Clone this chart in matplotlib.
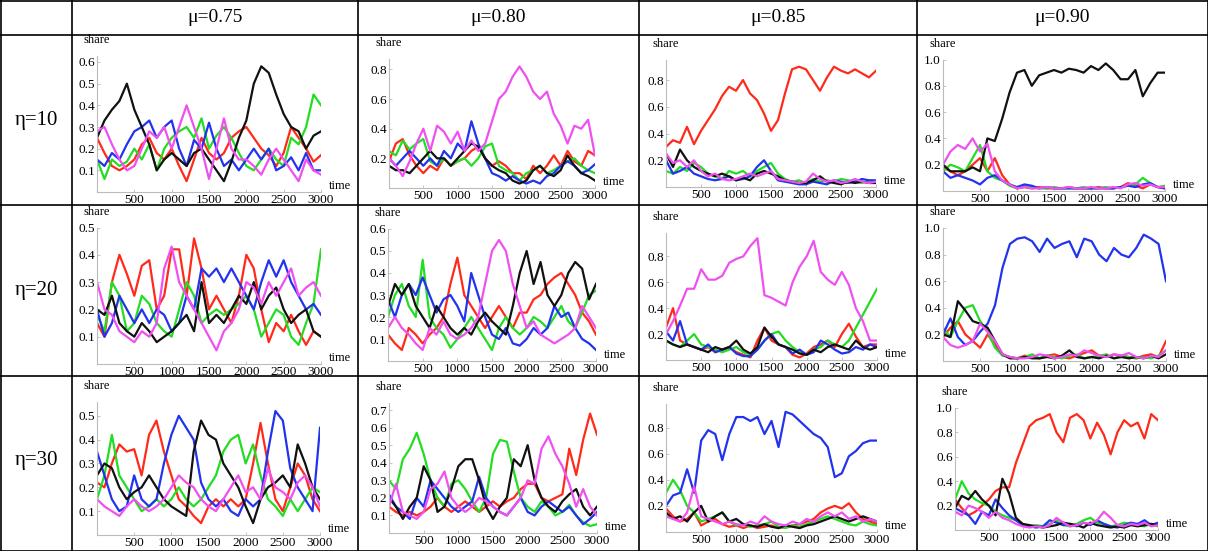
import numpy as np
import matplotlib.pyplot as plt
from matplotlib.lines import Line2D

plt.rcParams['font.family'] = ['Liberation Serif', 'DejaVu Serif']

# time grid (every 100 steps)
t = np.arange(0, 3001, 100)

mu_labels = ["\u03bc=0.75", "\u03bc=0.80", "\u03bc=0.85", "\u03bc=0.90"]
eta_labels = ["\u03b7=10", "\u03b7=20", "\u03b7=30"]
x_ticks = [500, 1000, 1500, 2000, 2500, 3000]

# ---- eta=10 ----
e10_m75_red = [0.25,0.18,0.12,0.10,0.12,0.15,0.22,0.25,0.18,0.15,0.20,0.12,0.05,0.15,0.25,0.18,0.15,0.18,0.25,0.28,0.30,0.25,0.20,0.17,0.12,0.18,0.30,0.25,0.20,0.14,0.17]
e10_m75_green = [0.15,0.06,0.15,0.12,0.14,0.20,0.15,0.22,0.10,0.20,0.25,0.28,0.30,0.25,0.34,0.20,0.26,0.30,0.25,0.18,0.12,0.10,0.15,0.20,0.15,0.12,0.25,0.22,0.30,0.45,0.40]
e10_m75_blue = [0.15,0.12,0.18,0.15,0.22,0.28,0.30,0.33,0.25,0.30,0.33,0.20,0.12,0.24,0.20,0.32,0.20,0.12,0.15,0.10,0.15,0.20,0.15,0.20,0.10,0.12,0.16,0.10,0.18,0.10,0.10]
e10_m75_black = [0.25,0.33,0.38,0.42,0.50,0.38,0.30,0.22,0.10,0.15,0.18,0.15,0.12,0.18,0.20,0.15,0.10,0.05,0.14,0.25,0.33,0.50,0.58,0.55,0.45,0.36,0.30,0.28,0.20,0.26,0.28]
e10_m75_magenta = [0.28,0.30,0.22,0.15,0.10,0.12,0.20,0.28,0.25,0.30,0.20,0.30,0.40,0.30,0.20,0.06,0.20,0.34,0.20,0.15,0.15,0.12,0.08,0.15,0.20,0.15,0.10,0.05,0.15,0.10,0.08]

e10_m80_red = [0.18,0.30,0.33,0.22,0.15,0.10,0.15,0.12,0.20,0.15,0.18,0.20,0.25,0.28,0.20,0.15,0.18,0.15,0.10,0.10,0.06,0.15,0.10,0.15,0.22,0.15,0.25,0.18,0.15,0.25,0.22]
e10_m80_green = [0.25,0.22,0.32,0.26,0.30,0.33,0.18,0.15,0.20,0.15,0.18,0.20,0.15,0.20,0.28,0.30,0.15,0.12,0.10,0.05,0.10,0.12,0.15,0.10,0.12,0.15,0.18,0.20,0.15,0.12,0.10]
e10_m80_blue = [0.20,0.15,0.20,0.25,0.20,0.15,0.20,0.15,0.25,0.20,0.30,0.25,0.45,0.30,0.20,0.10,0.08,0.05,0.08,0.05,0.03,0.05,0.03,0.08,0.10,0.15,0.18,0.15,0.10,0.12,0.16]
e10_m80_black = [0.15,0.12,0.12,0.10,0.15,0.20,0.25,0.20,0.20,0.15,0.20,0.25,0.30,0.28,0.20,0.15,0.12,0.10,0.05,0.03,0.05,0.12,0.15,0.10,0.08,0.12,0.22,0.15,0.10,0.08,0.05]
e10_m80_magenta = [0.20,0.15,0.08,0.18,0.30,0.40,0.25,0.42,0.38,0.30,0.38,0.25,0.32,0.25,0.30,0.45,0.60,0.65,0.75,0.82,0.75,0.65,0.60,0.65,0.50,0.42,0.30,0.42,0.40,0.46,0.22]

e10_m85_red = [0.30,0.35,0.33,0.45,0.32,0.42,0.50,0.58,0.68,0.75,0.72,0.80,0.70,0.65,0.55,0.42,0.50,0.70,0.88,0.90,0.88,0.80,0.72,0.82,0.90,0.87,0.85,0.88,0.85,0.82,0.87]
e10_m85_green = [0.12,0.10,0.15,0.12,0.18,0.15,0.10,0.08,0.06,0.12,0.10,0.12,0.08,0.12,0.15,0.18,0.10,0.06,0.04,0.05,0.03,0.06,0.04,0.05,0.04,0.06,0.05,0.04,0.03,0.05,0.04]
e10_m85_blue = [0.20,0.10,0.12,0.15,0.10,0.08,0.06,0.05,0.06,0.08,0.05,0.06,0.08,0.15,0.20,0.12,0.05,0.04,0.03,0.02,0.02,0.04,0.03,0.02,0.05,0.04,0.03,0.04,0.06,0.05,0.05]
e10_m85_black = [0.25,0.15,0.28,0.20,0.15,0.12,0.10,0.08,0.10,0.08,0.05,0.07,0.05,0.10,0.12,0.10,0.08,0.05,0.04,0.03,0.03,0.05,0.08,0.04,0.03,0.02,0.04,0.03,0.04,0.03,0.03]
e10_m85_magenta = [0.25,0.18,0.20,0.15,0.20,0.12,0.08,0.10,0.06,0.05,0.06,0.08,0.10,0.08,0.10,0.12,0.06,0.05,0.04,0.03,0.04,0.10,0.06,0.04,0.05,0.03,0.04,0.06,0.04,0.03,0.04]

e10_m90_red = [0.18,0.15,0.12,0.15,0.20,0.25,0.15,0.25,0.12,0.05,0.02,0.03,0.02,0.03,0.02,0.02,0.02,0.03,0.02,0.02,0.02,0.03,0.02,0.02,0.03,0.06,0.04,0.02,0.05,0.03,0.02]
e10_m90_green = [0.15,0.20,0.18,0.15,0.25,0.35,0.15,0.10,0.08,0.04,0.02,0.04,0.03,0.02,0.02,0.03,0.02,0.02,0.02,0.03,0.02,0.02,0.03,0.02,0.03,0.04,0.05,0.10,0.06,0.03,0.04]
e10_m90_blue = [0.15,0.10,0.12,0.10,0.08,0.05,0.10,0.12,0.08,0.05,0.03,0.05,0.04,0.02,0.03,0.02,0.02,0.02,0.02,0.02,0.02,0.02,0.02,0.02,0.03,0.04,0.03,0.05,0.06,0.03,0.02]
e10_m90_black = [0.20,0.15,0.15,0.15,0.18,0.15,0.40,0.38,0.55,0.75,0.90,0.92,0.80,0.88,0.90,0.92,0.90,0.93,0.92,0.90,0.95,0.92,0.97,0.92,0.85,0.85,0.92,0.72,0.82,0.90,0.90]
e10_m90_magenta = [0.20,0.30,0.35,0.32,0.40,0.30,0.36,0.15,0.08,0.05,0.02,0.03,0.02,0.02,0.03,0.02,0.02,0.03,0.02,0.02,0.03,0.02,0.02,0.03,0.02,0.05,0.06,0.04,0.05,0.03,0.03]

# ---- eta=20 ----
e20_m75_red = [0.15,0.10,0.30,0.40,0.33,0.25,0.36,0.38,0.20,0.25,0.42,0.42,0.25,0.46,0.35,0.20,0.25,0.20,0.15,0.25,0.40,0.35,0.20,0.08,0.15,0.12,0.18,0.12,0.07,0.12,0.10]
e20_m75_green = [0.18,0.12,0.30,0.25,0.12,0.15,0.25,0.22,0.15,0.12,0.10,0.20,0.30,0.25,0.15,0.18,0.20,0.18,0.20,0.22,0.25,0.20,0.10,0.15,0.20,0.18,0.10,0.07,0.15,0.22,0.42]
e20_m75_blue = [0.20,0.10,0.15,0.25,0.20,0.15,0.20,0.15,0.20,0.18,0.12,0.15,0.25,0.20,0.35,0.32,0.35,0.30,0.35,0.30,0.25,0.20,0.30,0.38,0.32,0.38,0.30,0.25,0.20,0.22,0.18]
e20_m75_black = [0.20,0.18,0.25,0.15,0.12,0.10,0.15,0.12,0.08,0.10,0.12,0.15,0.18,0.12,0.30,0.15,0.18,0.15,0.20,0.25,0.22,0.30,0.20,0.25,0.28,0.20,0.15,0.18,0.20,0.12,0.10]
e20_m75_magenta = [0.30,0.20,0.18,0.12,0.10,0.08,0.12,0.10,0.15,0.35,0.43,0.30,0.25,0.20,0.15,0.10,0.05,0.12,0.15,0.20,0.30,0.28,0.22,0.30,0.25,0.30,0.35,0.25,0.28,0.30,0.25]

e20_m80_red = [0.12,0.08,0.05,0.15,0.12,0.08,0.12,0.15,0.20,0.35,0.47,0.30,0.25,0.20,0.15,0.20,0.25,0.20,0.15,0.22,0.22,0.28,0.30,0.35,0.38,0.40,0.35,0.30,0.22,0.18,0.12]
e20_m80_green = [0.20,0.30,0.35,0.25,0.20,0.46,0.20,0.15,0.12,0.06,0.10,0.15,0.20,0.15,0.10,0.05,0.15,0.20,0.15,0.12,0.15,0.20,0.18,0.15,0.20,0.25,0.18,0.15,0.22,0.30,0.32]
e20_m80_blue = [0.28,0.20,0.30,0.35,0.30,0.38,0.30,0.22,0.28,0.30,0.25,0.18,0.40,0.30,0.20,0.12,0.10,0.15,0.08,0.07,0.10,0.15,0.12,0.15,0.25,0.20,0.22,0.15,0.10,0.08,0.05]
e20_m80_black = [0.25,0.35,0.30,0.35,0.25,0.20,0.15,0.25,0.20,0.15,0.12,0.15,0.12,0.18,0.22,0.18,0.15,0.12,0.25,0.40,0.50,0.35,0.45,0.30,0.25,0.30,0.40,0.45,0.42,0.28,0.35]
e20_m80_magenta = [0.15,0.20,0.15,0.12,0.08,0.05,0.15,0.12,0.18,0.12,0.10,0.12,0.15,0.20,0.35,0.50,0.55,0.50,0.35,0.25,0.15,0.18,0.12,0.10,0.08,0.10,0.12,0.15,0.25,0.20,0.15]

e20_m85_red = [0.25,0.40,0.15,0.12,0.10,0.08,0.10,0.06,0.08,0.10,0.06,0.04,0.02,0.15,0.25,0.15,0.12,0.10,0.04,0.02,0.05,0.10,0.12,0.15,0.10,0.20,0.28,0.18,0.10,0.12,0.12]
e20_m85_green = [0.15,0.12,0.10,0.15,0.20,0.12,0.10,0.08,0.06,0.08,0.10,0.06,0.04,0.08,0.15,0.20,0.22,0.15,0.10,0.06,0.04,0.08,0.10,0.15,0.12,0.10,0.15,0.25,0.35,0.45,0.55]
e20_m85_blue = [0.22,0.15,0.30,0.12,0.10,0.08,0.12,0.06,0.08,0.10,0.05,0.03,0.03,0.08,0.15,0.20,0.12,0.10,0.05,0.08,0.04,0.06,0.15,0.12,0.08,0.05,0.06,0.10,0.08,0.12,0.10]
e20_m85_black = [0.15,0.12,0.10,0.12,0.10,0.08,0.06,0.10,0.08,0.10,0.15,0.08,0.05,0.10,0.25,0.18,0.12,0.10,0.08,0.05,0.04,0.08,0.06,0.10,0.12,0.10,0.08,0.15,0.10,0.08,0.10]
e20_m85_magenta = [0.20,0.30,0.42,0.55,0.55,0.70,0.62,0.62,0.65,0.75,0.78,0.80,0.88,0.94,0.50,0.48,0.45,0.42,0.60,0.72,0.80,0.92,0.68,0.62,0.58,0.68,0.58,0.40,0.30,0.15,0.15]

e20_m90_red = [0.18,0.25,0.30,0.20,0.15,0.10,0.20,0.12,0.05,0.03,0.02,0.04,0.03,0.02,0.04,0.05,0.03,0.02,0.04,0.06,0.08,0.04,0.03,0.05,0.04,0.03,0.02,0.04,0.05,0.03,0.15]
e20_m90_green = [0.25,0.18,0.30,0.40,0.42,0.30,0.22,0.10,0.04,0.03,0.02,0.03,0.05,0.02,0.04,0.03,0.02,0.04,0.05,0.02,0.03,0.04,0.05,0.02,0.04,0.03,0.02,0.03,0.02,0.04,0.08]
e20_m90_blue = [0.20,0.32,0.18,0.12,0.15,0.22,0.28,0.42,0.70,0.88,0.92,0.93,0.90,0.82,0.92,0.85,0.88,0.90,0.78,0.92,0.90,0.80,0.75,0.85,0.80,0.78,0.85,0.95,0.92,0.88,0.60]
e20_m90_black = [0.20,0.18,0.45,0.38,0.30,0.28,0.25,0.15,0.05,0.02,0.02,0.03,0.02,0.02,0.03,0.02,0.04,0.08,0.03,0.02,0.03,0.02,0.04,0.02,0.03,0.02,0.03,0.02,0.04,0.02,0.05]
e20_m90_magenta = [0.18,0.12,0.10,0.12,0.15,0.28,0.22,0.15,0.05,0.03,0.02,0.02,0.03,0.05,0.04,0.02,0.03,0.05,0.04,0.08,0.06,0.04,0.03,0.05,0.04,0.06,0.03,0.02,0.04,0.03,0.08]

# ---- eta=30 ----
e30_m75_red = [0.22,0.20,0.30,0.38,0.35,0.36,0.25,0.42,0.48,0.35,0.25,0.15,0.12,0.08,0.05,0.12,0.15,0.12,0.15,0.12,0.15,0.30,0.47,0.30,0.15,0.10,0.20,0.30,0.25,0.15,0.10]
e30_m75_green = [0.15,0.25,0.42,0.25,0.20,0.15,0.10,0.12,0.15,0.12,0.15,0.20,0.15,0.12,0.15,0.20,0.25,0.35,0.40,0.42,0.30,0.38,0.25,0.15,0.12,0.08,0.15,0.10,0.15,0.20,0.18]
e30_m75_blue = [0.35,0.25,0.15,0.10,0.12,0.25,0.15,0.12,0.15,0.30,0.42,0.50,0.45,0.40,0.22,0.15,0.12,0.15,0.10,0.08,0.15,0.12,0.15,0.35,0.52,0.48,0.28,0.20,0.15,0.10,0.45]
e30_m75_black = [0.25,0.30,0.28,0.20,0.15,0.18,0.20,0.25,0.20,0.15,0.12,0.10,0.08,0.35,0.48,0.42,0.40,0.30,0.25,0.20,0.12,0.05,0.15,0.20,0.22,0.25,0.20,0.38,0.30,0.20,0.15]
e30_m75_magenta = [0.15,0.12,0.10,0.08,0.12,0.15,0.12,0.10,0.12,0.15,0.20,0.25,0.22,0.20,0.15,0.12,0.10,0.15,0.20,0.25,0.18,0.20,0.15,0.28,0.20,0.18,0.15,0.22,0.25,0.20,0.12]

e30_m80_red = [0.15,0.12,0.10,0.12,0.10,0.12,0.15,0.20,0.15,0.12,0.15,0.18,0.15,0.12,0.15,0.18,0.15,0.18,0.20,0.25,0.28,0.28,0.20,0.18,0.20,0.22,0.48,0.33,0.53,0.68,0.56]
e30_m80_green = [0.30,0.25,0.42,0.48,0.57,0.45,0.30,0.20,0.15,0.28,0.30,0.25,0.18,0.12,0.20,0.45,0.53,0.52,0.35,0.20,0.15,0.12,0.18,0.15,0.10,0.12,0.16,0.10,0.06,0.04,0.05]
e30_m80_blue = [0.22,0.15,0.12,0.08,0.20,0.15,0.30,0.25,0.20,0.15,0.12,0.15,0.18,0.32,0.20,0.15,0.12,0.10,0.15,0.20,0.12,0.10,0.15,0.18,0.15,0.12,0.15,0.10,0.05,0.08,0.12]
e30_m80_black = [0.20,0.15,0.08,0.15,0.20,0.38,0.30,0.12,0.15,0.25,0.38,0.42,0.42,0.30,0.15,0.08,0.15,0.20,0.42,0.38,0.50,0.30,0.20,0.15,0.12,0.18,0.22,0.25,0.15,0.10,0.15]
e30_m80_magenta = [0.15,0.28,0.12,0.10,0.08,0.12,0.25,0.28,0.35,0.20,0.15,0.12,0.15,0.20,0.18,0.15,0.12,0.10,0.15,0.20,0.30,0.28,0.48,0.55,0.45,0.38,0.28,0.15,0.25,0.15,0.10]

e30_m85_red = [0.18,0.12,0.08,0.10,0.15,0.05,0.08,0.10,0.06,0.04,0.05,0.03,0.05,0.03,0.04,0.05,0.03,0.04,0.05,0.06,0.08,0.10,0.15,0.18,0.20,0.18,0.22,0.15,0.10,0.08,0.06]
e30_m85_green = [0.30,0.40,0.32,0.20,0.15,0.08,0.10,0.12,0.15,0.08,0.05,0.06,0.04,0.05,0.06,0.08,0.04,0.03,0.05,0.04,0.06,0.08,0.10,0.12,0.10,0.08,0.06,0.05,0.08,0.06,0.05]
e30_m85_blue = [0.20,0.28,0.30,0.48,0.30,0.70,0.78,0.75,0.55,0.75,0.88,0.88,0.85,0.88,0.75,0.85,0.65,0.92,0.90,0.85,0.80,0.75,0.72,0.65,0.42,0.45,0.58,0.62,0.68,0.70,0.70]
e30_m85_black = [0.15,0.10,0.12,0.08,0.15,0.20,0.08,0.12,0.15,0.08,0.10,0.06,0.05,0.04,0.06,0.04,0.03,0.05,0.04,0.03,0.05,0.06,0.08,0.10,0.12,0.10,0.08,0.10,0.12,0.10,0.08]
e30_m85_magenta = [0.12,0.10,0.08,0.15,0.35,0.12,0.10,0.08,0.06,0.08,0.06,0.05,0.08,0.06,0.12,0.08,0.06,0.05,0.08,0.06,0.10,0.08,0.12,0.15,0.12,0.15,0.10,0.12,0.08,0.10,0.08]

e30_m90_red = [0.25,0.18,0.12,0.15,0.20,0.25,0.32,0.35,0.35,0.55,0.70,0.85,0.90,0.92,0.95,0.80,0.72,0.92,0.95,0.90,0.75,0.88,0.78,0.62,0.80,0.90,0.85,0.88,0.75,0.95,0.90]
e30_m90_green = [0.25,0.40,0.30,0.25,0.22,0.20,0.15,0.12,0.10,0.08,0.05,0.03,0.04,0.03,0.05,0.08,0.04,0.03,0.05,0.08,0.10,0.06,0.05,0.03,0.04,0.06,0.05,0.04,0.03,0.05,0.03]
e30_m90_blue = [0.18,0.15,0.12,0.05,0.15,0.12,0.25,0.18,0.12,0.08,0.04,0.03,0.02,0.03,0.08,0.06,0.04,0.05,0.03,0.06,0.04,0.08,0.05,0.03,0.02,0.04,0.06,0.05,0.08,0.04,0.06]
e30_m90_black = [0.18,0.28,0.25,0.32,0.25,0.20,0.12,0.42,0.30,0.10,0.05,0.04,0.03,0.02,0.03,0.04,0.06,0.05,0.04,0.02,0.06,0.04,0.03,0.02,0.03,0.02,0.04,0.03,0.04,0.05,0.04]
e30_m90_magenta = [0.15,0.12,0.20,0.18,0.15,0.10,0.15,0.10,0.08,0.05,0.03,0.02,0.03,0.02,0.04,0.10,0.06,0.03,0.04,0.06,0.05,0.08,0.15,0.10,0.04,0.03,0.05,0.04,0.06,0.03,0.04]

colors = {'red': '#ff2a1a', 'green': '#22dd22', 'blue': '#2233ee',
          'black': '#111111', 'magenta': '#f050f0'}

g = globals()
def panel_series(e, m):
    return [(g[f"e{e}_m{m}_{c}"], colors[c]) for c in ['red', 'green', 'blue', 'black', 'magenta']]

etas = [10, 20, 30]
mus = [75, 80, 85, 90]

# axes boxes in pixels: left(x=0), right(x=3000), bottom(y=0), top(y=ymax)
W, H = 1208, 551
boxes = [
    [(97, 321, 192, 55.5), (389, 595, 188, 59), (666, 876, 187, 60), (943, 1165, 191, 59.5)],
    [(97, 321, 364, 227.5), (388, 596, 361, 229), (666, 877, 360, 233), (943, 1166, 361, 228)],
    [(97, 320, 535, 401.5), (389, 597, 533, 403), (666, 877, 532, 404), (955, 1158, 530, 408)],
]
ymaxs = [[0.63, 0.87, 0.95, 1.0], [0.5, 0.6, 0.98, 1.0], [0.56, 0.74, 0.98, 1.0]]
yticks = [
    [[0.1, 0.2, 0.3, 0.4, 0.5, 0.6], [0.2, 0.4, 0.6, 0.8], [0.2, 0.4, 0.6, 0.8], [0.2, 0.4, 0.6, 0.8, 1.0]],
    [[0.1, 0.2, 0.3, 0.4, 0.5], [0.1, 0.2, 0.3, 0.4, 0.5, 0.6], [0.2, 0.4, 0.6, 0.8], [0.2, 0.4, 0.6, 0.8, 1.0]],
    [[0.1, 0.2, 0.3, 0.4, 0.5], [0.1, 0.2, 0.3, 0.4, 0.5, 0.6, 0.7], [0.2, 0.4, 0.6, 0.8], [0.2, 0.4, 0.6, 0.8, 1.0]],
]

fig = plt.figure(figsize=(W / 100, H / 100), dpi=100)

for i, e in enumerate(etas):
    for j, m in enumerate(mus):
        l, r, b, tp = boxes[i][j]
        ax = fig.add_axes([l / W, 1 - b / H, (r - l) / W, (b - tp) / H])
        for ys, col in panel_series(e, m):
            ax.plot(t, ys, color=col, lw=1.6)
        ax.set_xlim(0, 3000)
        ax.set_ylim(0, ymaxs[i][j])
        ax.set_xticks(x_ticks)
        ax.set_yticks(yticks[i][j])
        ax.set_yticklabels([f"{v:.1f}" for v in yticks[i][j]])
        for s in ['top', 'right']:
            ax.spines[s].set_visible(False)
        for s in ['left', 'bottom']:
            ax.spines[s].set_color('#bbbbbb')
            ax.spines[s].set_linewidth(0.8)
        ax.tick_params(direction='in', length=2.5, width=0.6, color='#bbbbbb', labelsize=9.5, pad=1.5)
        ax.patch.set_alpha(0)
        ax.annotate("share", xy=(0, 1), xycoords='axes fraction', xytext=(0, 7),
                    textcoords='offset points', ha='center', va='bottom', fontsize=9)
        ax.annotate("time", xy=(1, 0), xycoords='axes fraction', xytext=(6, 0),
                    textcoords='offset points', ha='left', va='bottom', fontsize=9)

# table grid
def hline(y, x0=0, x1=W):
    fig.add_artist(Line2D([x0 / W, x1 / W], [1 - y / H, 1 - y / H], color='black', lw=1.2))

def vline(x, y0=0, y1=H):
    fig.add_artist(Line2D([x / W, x / W], [1 - y0 / H, 1 - y1 / H], color='black', lw=1.2))

for y in [0.5, 35, 205, 376, 550.5]:
    hline(y)
for x in [0.5, 72, 358, 639, 917, 1207.5]:
    vline(x)

col_centers = [215, 498, 778, 1062]
for x, lab in zip(col_centers, mu_labels):
    fig.text(x / W, 1 - 17 / H, lab, ha='center', va='center', fontsize=14)

row_centers = [120, 290, 461]
for y, lab in zip(row_centers, eta_labels):
    fig.text(36 / W, 1 - y / H, lab, ha='center', va='center', fontsize=15)

fig.savefig("out.png", dpi=100)
